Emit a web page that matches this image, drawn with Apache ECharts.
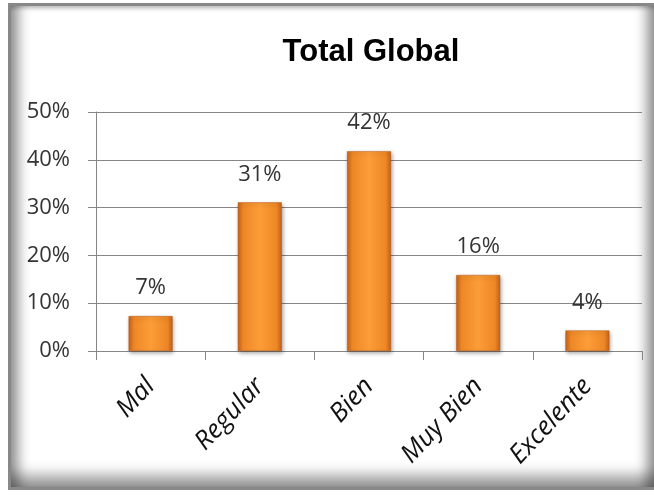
<!DOCTYPE html>
<html>
<head>
<meta charset="utf-8">
<script src="https://cdn.jsdelivr.net/npm/echarts@6/dist/echarts.min.js"></script>
<style>
html,body{margin:0;padding:0;background:#fff;width:654px;height:495px;overflow:hidden;}
#frame{position:absolute;left:8px;top:3px;width:646px;height:487px;box-sizing:border-box;border:3px solid #888;border-right:none;
box-shadow: inset 14px 0 12px -6px rgba(0,0,0,0.38), inset -14px 0 12px -6px rgba(0,0,0,0.38), inset 0 -18px 14px -6px rgba(0,0,0,0.38), inset 0 5px 4px -3px rgba(0,0,0,0.2);}
#chart{position:absolute;left:0;top:0;width:654px;height:495px;}
</style>
</head>
<body>
<div id="frame"></div>
<div id="chart"></div>
<script>
const categories = ['Mal', 'Regular', 'Bien', 'Muy Bien', 'Excelente'];
const values = [7.3, 31.1, 41.8, 15.9, 4.3];
const yTicks = [0, 10, 20, 30, 40, 50];

const chart = echarts.init(document.getElementById('chart'), null, {renderer: 'canvas'});
const barColor = new echarts.graphic.LinearGradient(0, 0, 1, 0, [
  {offset: 0, color: '#c4621a'},
  {offset: 0.12, color: '#ee8726'},
  {offset: 0.5, color: '#fc9d38'},
  {offset: 0.88, color: '#ee8726'},
  {offset: 1, color: '#c4621a'}
]);
chart.setOption({
  backgroundColor: 'transparent',
  animation: false,
  title: {
    text: 'Total Global',
    left: 366, top: 32, textAlign: 'center',
    textStyle: {fontFamily: 'Liberation Sans', fontWeight: 'bold', fontSize: 31, color: '#000'}
  },
  grid: {left: 96, right: 12, top: 112, bottom: 144},
  xAxis: {
    type: 'category',
    data: categories,
    axisLine: {lineStyle: {color: '#868686', width: 1}},
    axisTick: {show: true, length: 9, lineStyle: {color: '#868686'}},
    axisLabel: {
      rotate: 47, margin: 31, interval: 0,
      fontFamily: 'Open Sans', fontStyle: 'italic', fontSize: 26, color: '#111'
    }
  },
  yAxis: {
    type: 'value',
    min: yTicks[0], max: yTicks[yTicks.length - 1], interval: 10,
    axisLine: {show: true, lineStyle: {color: '#868686', width: 1}},
    axisTick: {show: true, length: 8, lineStyle: {color: '#868686'}},
    splitLine: {lineStyle: {color: '#868686', width: 1}},
    axisLabel: {
      margin: 26, formatter: v => v + '%',
      fontFamily: 'Open Sans', fontSize: 22, color: '#333'
    }
  },
  series: [{
    type: 'bar',
    data: values,
    barWidth: 44,
    itemStyle: {
      color: barColor,
      borderColor: '#b85a16', borderWidth: 0.5,
      shadowColor: 'rgba(0,0,0,0.35)', shadowBlur: 4, shadowOffsetY: 2, shadowOffsetX: 1
    },
    label: {
      show: true, position: 'top', distance: 17,
      formatter: p => Math.round(p.value) + '%',
      fontFamily: 'Open Sans', fontSize: 22, color: '#333'
    }
  }]
});
</script>
</body>
</html>
